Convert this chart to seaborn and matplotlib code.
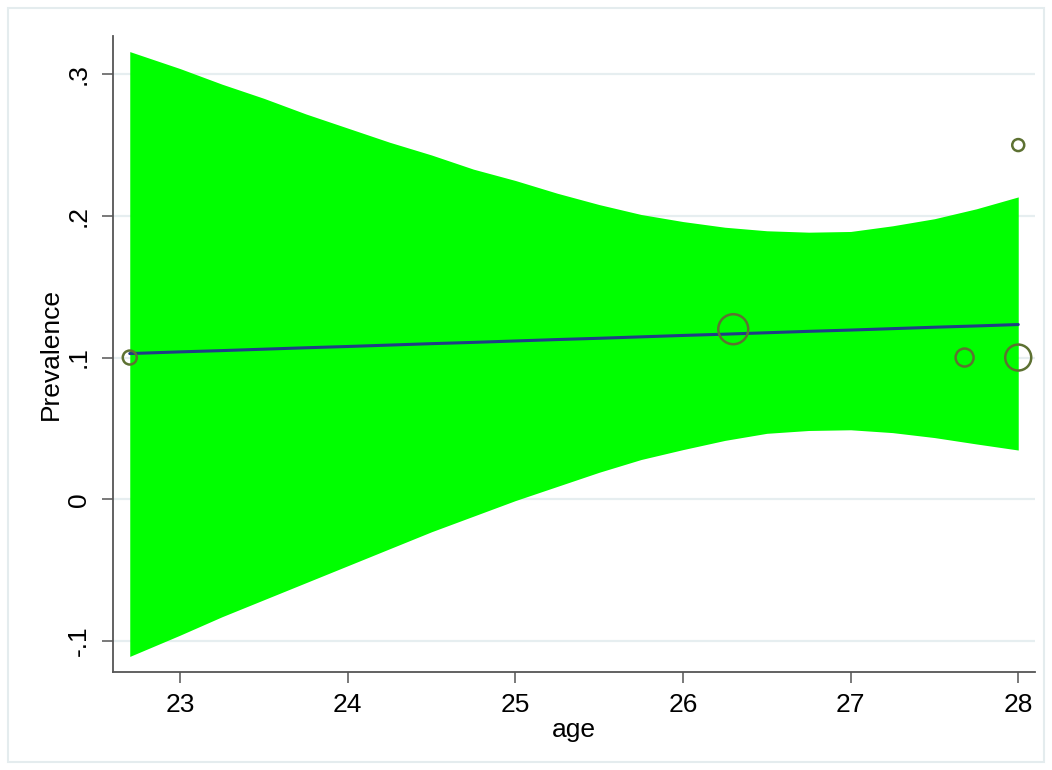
import matplotlib
matplotlib.use("Agg")
import matplotlib.pyplot as plt
import seaborn as sns
import pandas as pd
from matplotlib.patches import Rectangle

# Study-level prevalence by mean age, with study weights
age = [22.7, 26.3, 27.68, 28.0, 28.0]
prevalence = [0.10, 0.12, 0.10, 0.10, 0.25]
weight = [49, 225, 81, 169, 36]

# Fitted meta-regression line and its 95% band
fit_age = [22.7, 23.0, 23.25, 23.5, 23.75, 24.0, 24.25, 24.5, 24.75, 25.0,
           25.25, 25.5, 25.75, 26.0, 26.25, 26.5, 26.75, 27.0, 27.25, 27.5,
           27.75, 28.0]
fit_pred = [0.1028, 0.1040, 0.1049, 0.1059, 0.1069, 0.1078, 0.1088, 0.1098,
            0.1107, 0.1117, 0.1127, 0.1136, 0.1146, 0.1156, 0.1165, 0.1175,
            0.1185, 0.1194, 0.1204, 0.1214, 0.1223, 0.1233]
fit_upper = [0.316, 0.304, 0.293, 0.283, 0.272, 0.262, 0.252, 0.243, 0.233,
             0.225, 0.216, 0.208, 0.201, 0.196, 0.192, 0.1895, 0.1885, 0.189,
             0.193, 0.198, 0.205, 0.2134]
fit_lower = [-0.111, -0.096, -0.083, -0.071, -0.059, -0.047, -0.035, -0.023,
             -0.012, -0.001, 0.009, 0.019, 0.028, 0.035, 0.0415, 0.0465, 0.0485,
             0.049, 0.047, 0.0435, 0.039, 0.0347]

y_ticks = [-0.1, 0.0, 0.1, 0.2, 0.3]
y_tick_labels = ["-.1", "0", ".1", ".2", ".3"]
x_ticks = [23, 24, 25, 26, 27, 28]

studies = pd.DataFrame({"age": age, "prevalence": prevalence, "weight": weight})
fit = pd.DataFrame({"age": fit_age, "pred": fit_pred})

sns.set_theme(style="white")
plt.rcParams["font.family"] = ["Liberation Sans", "DejaVu Sans"]

fig = plt.figure(figsize=(10.52, 7.70), dpi=100)
ax = fig.add_axes([113 / 1052, 1 - 672 / 770, (1035 - 113) / 1052, (672 - 36) / 770])

grid_c = "#e6eef0"
ax.set_axisbelow(True)
ax.yaxis.grid(True, color=grid_c, linewidth=1.6)
ax.xaxis.grid(False)

ax.fill_between(fit_age, fit_lower, fit_upper, color="#00ff00", linewidth=0, zorder=2)
sns.lineplot(data=fit, x="age", y="pred", color="#1f3f86", linewidth=2.2,
             ax=ax, zorder=3)

s_min = 2.07 * min(weight)
s_max = 2.07 * max(weight)
sns.scatterplot(data=studies, x="age", y="prevalence", size="weight",
                sizes=(s_min, s_max), size_norm=(min(weight), max(weight)),
                facecolor="none", edgecolor="#5d7132", linewidth=1.8,
                legend=False, ax=ax, zorder=4)

ax.set_xlim(22.6, 28.1)
ax.set_ylim(-0.122, 0.327)
ax.set_xticks(x_ticks)
ax.set_yticks(y_ticks)
ax.set_yticklabels(y_tick_labels, rotation=90, va="center")
ax.tick_params(axis="both", direction="out", length=8, width=1.1, color="#555555",
               labelsize=19, labelcolor="black", left=True, bottom=True)
ax.tick_params(axis="x", pad=7)
ax.tick_params(axis="y", pad=8)
ax.set_xlabel("age", fontsize=19, labelpad=1, color="black")
ax.set_ylabel("Prevalence", fontsize=19, labelpad=3, color="black")

for side in ("top", "right"):
    ax.spines[side].set_visible(False)
for side in ("left", "bottom"):
    ax.spines[side].set_color("#555555")
    ax.spines[side].set_linewidth(1.3)

# light frame around the graph region
fig.patches.append(Rectangle((8 / 1052, 8 / 770), (1044 - 8) / 1052, (762 - 8) / 770,
                             transform=fig.transFigure, fill=False,
                             edgecolor="#e4ecee", linewidth=1.5))

fig.savefig("out.png", dpi=100, facecolor="white")
